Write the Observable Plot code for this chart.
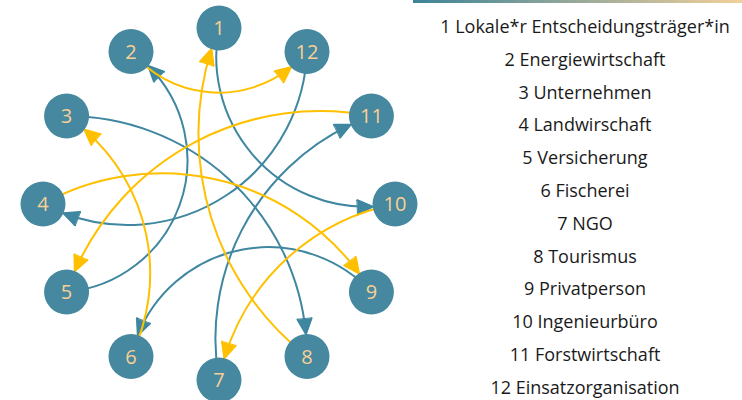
<!DOCTYPE html>
<html><head><meta charset="utf-8">
<script src="https://cdn.jsdelivr.net/npm/d3@7"></script>
<script src="https://cdn.jsdelivr.net/npm/@observablehq/plot@0.6"></script>
<style>
html,body{margin:0;padding:0;background:#fff;}
#wrap{position:relative;width:742px;height:400px;overflow:hidden;}
#chart{position:absolute;left:0;top:0;}
#bar{position:absolute;left:413px;top:0;width:329px;height:3px;background:linear-gradient(to right,#3D8398,#F2D09A);}
#legend{position:absolute;left:420px;top:10px;width:330px;text-align:center;font-family:"Open Sans",sans-serif;font-size:18px;line-height:32.8px;color:#1a1a1a;white-space:nowrap;}
</style></head>
<body>
<div id="wrap"><div id="chart"></div><div id="bar"></div><div id="legend"></div></div>
<script>
// Nodes (in order around the circle, counter-clockwise from the top)
const nodeIds = [1,2,3,4,5,6,7,8,9,10,11,12];
const nodeLabels = ["Lokale*r Entscheidungsträger*in","Energiewirtschaft","Unternehmen","Landwirschaft","Versicherung","Fischerei","NGO","Tourismus","Privatperson","Ingenieurbüro","Forstwirtschaft","Einsatzorganisation"];
// Directed connections
const edgeFrom = [1, 3, 12, 5, 9, 7, 2, 6, 8, 11, 4, 10];
const edgeTo   = [10, 8, 4, 2, 6, 11, 12, 3, 1, 5, 9, 7];
const edgeType = ["teal","teal","teal","teal","teal","teal","gold","gold","gold","gold","gold","gold"];
// curvature of each connection (degrees)
const edgeBend = [-56, 45, 58, -70, -62, 40, -50, -41, 37, -41, 44, -34];

const colors = {teal: "#3F87A0", gold: "#FFC000"};
const nodeFill = "#45889F";
const labelFill = "#F8D096";

const n = nodeIds.length;
const nodes = nodeIds.map((id, i) => {
  const a = i * 2 * Math.PI / n;
  return {id, x: -Math.sin(a), y: Math.cos(a)};
});
const byId = new Map(nodes.map(d => [d.id, d]));
const edges = edgeFrom.map((f, i) => ({
  x1: byId.get(f).x, y1: byId.get(f).y,
  x2: byId.get(edgeTo[i]).x, y2: byId.get(edgeTo[i]).y,
  type: edgeType[i], bend: edgeBend[i]
}));

const cx = 218.5, cy = 203.5, R = 176;
const svg = Plot.plot({
  width: 420, height: 400, margin: 0,
  x: {domain: [-1, 1], range: [cx - R, cx + R], axis: null},
  y: {domain: [1, -1], range: [cy - R, cy + R], axis: null},
  marks: [
    ...edges.map(e => Plot.arrow([e], {
      x1: "x1", y1: "y1", x2: "x2", y2: "y2",
      bend: e.bend, stroke: colors[e.type], strokeWidth: 2,
      headLength: 12.5, headAngle: 50, insetEnd: 22.5
    })),
    Plot.dot(nodes, {x: "x", y: "y", r: 22.5, fill: nodeFill}),
    Plot.text(nodes, {x: "x", y: "y", text: d => String(d.id), fill: labelFill, fontSize: 20, fontFamily: "Open Sans", dy: 1})
  ]
});
// filled arrow heads
d3.select(svg).selectAll('g[aria-label="arrow"] path').each(function() {
  const d = this.getAttribute("d");
  const parts = d.split("M");
  const head = parts[parts.length - 1];
  const g = this.parentNode;
  const c = g.getAttribute("stroke") || this.getAttribute("stroke");
  d3.select(g).append("path").attr("d", "M" + head + "Z").attr("fill", c).attr("stroke", c).attr("stroke-width", 1).attr("stroke-linejoin", "miter");
});
document.getElementById("chart").appendChild(svg);
document.getElementById("legend").innerHTML = nodeIds.map((id, i) => `<div>${id} ${nodeLabels[i]}</div>`).join("");
</script>
</body></html>
